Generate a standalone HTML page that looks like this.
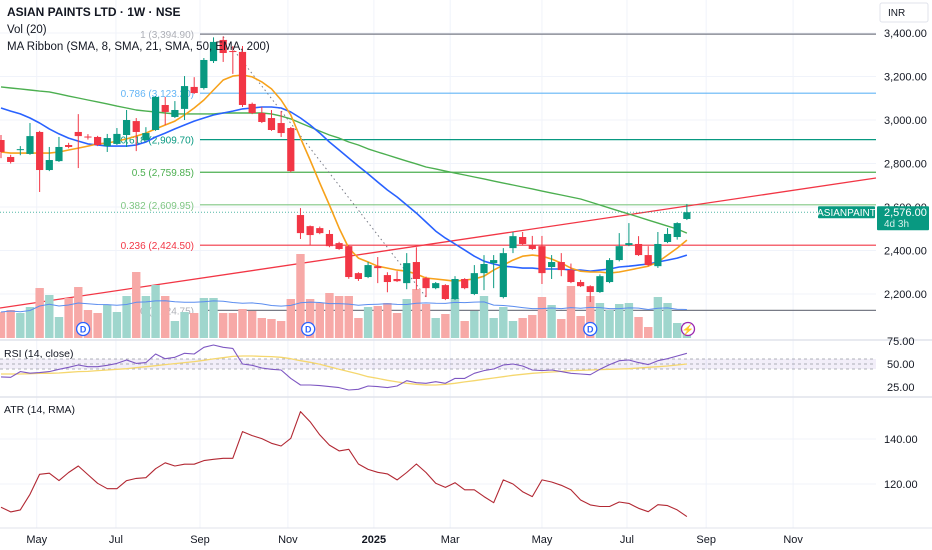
<!DOCTYPE html>
<html><head><meta charset="utf-8"><style>
html,body{margin:0;padding:0;background:#fff;}
svg{display:block;font-family:"Liberation Sans",sans-serif;}
</style></head><body>
<svg id="c" width="932" height="550" viewBox="0 0 932 550">
<g id="grid"></g>
<g id="fib"></g>
<g id="vol"></g>
<g id="mas"></g>
<g id="candles"></g>
<g id="ind"></g>
<g id="axes"></g>
</svg>
<script>
const opens=[2908,2830,2862,2844,2945,2770,2811,2885,2945,2924,2922,2880,2890,2931,2995,2908,2954,3069,3014,3051,3152,3147,3271,3368,3317,3313,3074,3032,3009,2986,2963,2563,2512,2503,2476,2434,2420,2296,2278,2328,2287,2269,2250,2347,2273,2227,2241,2177,2269,2200,2296,2342,2186,2411,2462,2425,2420,2324,2347,2310,2255,2236,2209,2255,2356,2425,2430,2379,2328,2439,2462,2545];
const highs=[2931,2840,2880,2986,2950,2876,2922,2895,3027,2935,2927,2936,2963,3046,3009,2967,3110,3106,3087,3202,3197,3285,3380,3384,3340,3340,3080,3060,3046,3041,2968,2595,2515,2510,2494,2440,2425,2300,2347,2370,2300,2305,2388,2415,2280,2255,2245,2282,2273,2333,2379,2379,2411,2485,2485,2467,2467,2379,2388,2340,2265,2240,2290,2365,2480,2526,2466,2420,2485,2503,2530,2614];
const lows=[2825,2800,2838,2840,2669,2765,2807,2870,2779,2910,2880,2853,2885,2876,2857,2900,2950,2977,3009,3000,3120,3140,3262,3267,3212,3060,3027,2986,2950,2922,2760,2453,2425,2475,2415,2403,2270,2260,2273,2250,2208,2255,2222,2220,2186,2222,2172,2172,2222,2195,2218,2227,2180,2388,2425,2403,2246,2269,2282,2250,2232,2163,2205,2250,2350,2420,2375,2328,2320,2434,2450,2540];
const closes=[2853,2807,2866,2926,2770,2816,2876,2876,2926,2920,2885,2917,2936,3000,2945,2940,3106,3037,3046,3156,3124,3276,3359,3308,3313,3069,3032,2991,2954,2940,2765,2480,2471,2480,2420,2407,2278,2269,2333,2319,2255,2259,2342,2269,2227,2250,2177,2269,2227,2296,2338,2356,2388,2466,2430,2407,2296,2347,2310,2255,2236,2209,2282,2356,2420,2434,2379,2333,2430,2476,2526,2576];
const volumes=[26,28,25,31,50,43,21,40,51,28,25,33,26,42,66,42,53,42,17,26,25,40,40,25,25,29,27,20,19,17,39,84,39,35,45,42,42,20,31,32,35,25,39,49,34,20,24,40,17,27,42,20,31,17,20,23,41,33,19,52,22,42,35,28,34,35,21,11,41,35,15,15];
const sma8=[2853,2848,2848,2848,2848,2848,2853,2862,2871,2880,2890,2894,2903,2913,2926,2940,2959,2977,2995,3023,3055,3092,3138,3184,3202,3207,3198,3175,3143,3092,3023,2917,2816,2710,2609,2503,2411,2365,2347,2328,2319,2310,2305,2292,2273,2269,2264,2259,2264,2269,2282,2310,2333,2356,2374,2379,2374,2361,2342,2319,2305,2301,2301,2296,2301,2310,2319,2328,2347,2379,2411,2448];
const sma21=[3055,3041,3028,3009,2986,2959,2936,2917,2903,2890,2885,2880,2880,2880,2885,2899,2922,2940,2959,2977,2995,3009,3023,3032,3041,3051,3055,3060,3060,3055,3037,3009,2977,2940,2899,2862,2825,2788,2752,2715,2678,2646,2609,2572,2531,2489,2457,2430,2402,2374,2351,2338,2328,2324,2319,2319,2315,2315,2315,2310,2310,2305,2310,2315,2324,2328,2333,2338,2347,2356,2365,2379];
const sma50=[3152,3147,3143,3138,3133,3129,3120,3110,3101,3092,3083,3074,3064,3055,3046,3041,3037,3032,3028,3028,3028,3028,3028,3032,3032,3032,3032,3032,3028,3018,3005,2986,2968,2949,2931,2917,2899,2885,2867,2853,2839,2825,2811,2798,2784,2775,2765,2756,2747,2738,2729,2719,2710,2701,2692,2683,2673,2664,2655,2646,2637,2623,2609,2595,2581,2568,2554,2540,2526,2512,2499,2480];
const rsi=[36,35.5,41.7,40,40.6,41.7,44.2,46.4,48.9,47.1,47.1,48.6,50.7,54.4,50.7,51.5,60.9,55.8,57.3,61.6,60.9,68.1,70.7,68.1,67,50,48.6,45.7,44.2,43.5,34.4,27.2,27.2,26.5,25.4,24.3,21.7,22.5,26.1,25.4,24.3,26.1,31.9,29.7,29,30.8,29,34.4,34.4,39.9,42.8,44.6,48.9,50,47.8,43.5,42.8,43.5,41.7,39.9,39.1,38.4,44.2,49.3,53.6,54.4,51.5,49.3,53.6,55.8,58.7,61.6];
const rsiMa=[39.1,39.1,39.1,39.5,39.9,39.9,40.2,41,41.7,42,42.8,43.5,44.2,44.9,46,47.1,48.2,49.3,50.4,51.5,52.6,54,55.5,56.9,58.3,58.7,58.7,58.3,58,57.3,55.8,53.6,51.8,49.7,47.1,44.2,41.7,39.1,36.2,34.4,32.3,30.5,29,27.9,27.2,27.2,27.9,29,30.5,31.9,33.4,34.8,36.2,37.7,38.8,39.9,40.6,41.3,42,42.8,43.1,43.5,43.9,44.2,44.6,44.9,45.7,46.4,47.1,47.8,48.9,50];
const atr=[109.7,107.6,108.5,115.4,124.3,124.8,121.5,125.1,128,124.2,120.3,117.9,117.9,121.5,122.5,122.8,126.8,129.4,128,128.8,128.8,130.4,131,131.4,131.4,143.3,141.5,140.2,138.1,136.9,140.3,152.2,147.7,141.8,137.3,134.7,135.4,128.9,126.5,125.2,124.5,121.8,125.1,128.9,125.1,120.3,118.5,120.6,117.4,117.4,114.4,111.7,121.8,120,116.6,114.4,121.8,120.9,119.4,117.4,112.9,110.7,110,110,112,111.4,109.2,107.7,110.8,110.4,108.5,105.5];
const timeTickLabels=["May","Jul","Sep","Nov","2025","Mar","May","Jul","Sep","Nov"];
const timeTickIdx=[3.7,11.9,20.6,29.7,38.6,46.5,56,64.8,73,82];
const priceTicks=[3400,3200,3000,2800,2600,2400,2200];
const fibRatios=["1","0.786","0.618","0.5","0.382","0.236","0"];
const fibPrices=[3394.90,3123.20,2909.70,2759.85,2609.95,2424.50,2124.75];
const rsiTicks=[75,50,25];
const atrTicks=[140,120];
const dividendIdx=[8.5,31.8,61];
const lastPrice=2576;

const NS="http://www.w3.org/2000/svg";
const X=i=>1+9.66*i;
const yP=p=>33+(3400-p)*0.2175;
const yV=v=>338-v;
const yR=r=>364-(r-50)*0.92;
const yA=a=>439+(140-a)*2.25;
const fmt=v=>v.toLocaleString("en-US",{minimumFractionDigits:2,maximumFractionDigits:2});
function mk(parent,tag,attrs,text){const e=document.createElementNS(NS,tag);for(const k in attrs)e.setAttribute(k,attrs[k]);if(text!==undefined)e.textContent=text;document.getElementById(parent).appendChild(e);return e;}
function poly(parent,arr,yf,color,w,name){const pts=arr.map((v,i)=>X(i).toFixed(1)+","+yf(v).toFixed(1)).join(" ");const e=mk(parent,"polyline",{points:pts,fill:"none",stroke:color,"stroke-width":w,"stroke-linejoin":"round"});


return e;}

// grid
timeTickIdx.forEach((t,k)=>{const e=mk("grid","line",{x1:X(t),x2:X(t),y1:0,y2:528,stroke:"#f0f3fa","stroke-width":1});

});
priceTicks.forEach(p=>{const e=mk("grid","line",{x1:0,x2:876,y1:yP(p),y2:yP(p),stroke:"#f0f3fa","stroke-width":1});

});
atrTicks.forEach(a=>{const e=mk("grid","line",{x1:0,x2:876,y1:yA(a),y2:yA(a),stroke:"#f0f3fa"});

});

// fib
const fibColors=["#787b86","#64b5f6","#089981","#4caf50","#81c784","#f23645","#787b86"];
fibPrices.forEach((p,k)=>{const y=yP(p);
const l=mk("fib","line",{x1:200,x2:876,y1:y,y2:y,stroke:fibColors[k],"stroke-width":1.2});


const t=mk("fib","text",{x:194,y:y+4,"text-anchor":"end","font-size":10,fill:fibColors[k],opacity:k==0||k==6?0.6:1},fibRatios[k]+" ("+fmt(p)+")");

});
// fib connector dotted diagonal
{const e=mk("fib","line",{x1:X(23),y1:yP(highs[23]),x2:X(44),y2:yP(lows[44]),stroke:"#787b86","stroke-width":1,"stroke-dasharray":"1.5,3"});

}
// trendline
{const e=mk("fib","line",{x1:0,y1:308,x2:876,y2:178,stroke:"#f23645","stroke-width":1.3});

}
// last price dotted
{const e=mk("fib","line",{x1:0,x2:876,y1:yP(lastPrice),y2:yP(lastPrice),stroke:"#089981","stroke-width":1,"stroke-dasharray":"1,2",opacity:0.7});

}

// volume
volumes.forEach((v,i)=>{const up=closes[i]>=opens[i];const e=mk("vol","rect",{x:X(i)-4.2,y:yV(v),width:8.4,height:v,fill:up?"#9fd6cd":"#f7a9a7"});

});
const volMa=volumes.map((v,i)=>{const s=volumes.slice(Math.max(0,i-19),i+1);return s.reduce((a,b)=>a+b,0)/s.length;});
poly("vol",volMa,yV,"#5b8def",1,"volume-ma-line");

// MAs
poly("mas",sma50,yP,"#4caf50",1.4,"sma-50-line");
poly("mas",sma21,yP,"#2962ff",1.6,"sma-21-line");
poly("mas",sma8,yP,"#f7a21b",1.6,"sma-8-line");

// candles
opens.forEach((o,i)=>{const c=closes[i];const up=c>=o;const col=up?"#089981":"#f23645";const x=X(i);
const w=mk("candles","line",{x1:x,x2:x,y1:yP(highs[i]),y2:yP(lows[i]),stroke:col,"stroke-width":1});


const top=yP(Math.max(o,c)),bot=yP(Math.min(o,c));
const b=mk("candles","rect",{x:x-3.6,y:top,width:7.2,height:Math.max(1,bot-top),fill:col});

});

// dividend markers
dividendIdx.forEach(d=>{const g=mk("candles","g",{});


const cx=X(d);const ci=document.createElementNS(NS,"circle");ci.setAttribute("cx",cx);ci.setAttribute("cy",329);ci.setAttribute("r",6.5);ci.setAttribute("fill","#fff");ci.setAttribute("stroke","#2962ff");ci.setAttribute("stroke-width",1.3);g.appendChild(ci);
const t=document.createElementNS(NS,"text");t.setAttribute("x",cx);t.setAttribute("y",332.5);t.setAttribute("text-anchor","middle");t.setAttribute("font-size",9);t.setAttribute("font-weight","bold");t.setAttribute("fill","#2962ff");t.textContent="D";g.appendChild(t);});
{const g=mk("candles","g",{});


const ci=document.createElementNS(NS,"circle");ci.setAttribute("cx",688);ci.setAttribute("cy",329);ci.setAttribute("r",6.5);ci.setAttribute("fill","#fff");ci.setAttribute("stroke","#9c27b0");ci.setAttribute("stroke-width",1.3);g.appendChild(ci);
const t=document.createElementNS(NS,"text");t.setAttribute("x",688);t.setAttribute("y",333);t.setAttribute("text-anchor","middle");t.setAttribute("font-size",10);t.setAttribute("fill","#9c27b0");t.textContent="⚡";g.appendChild(t);}

// panes separators
[340,397].forEach(y=>{const e=mk("ind","line",{x1:0,x2:932,y1:y,y2:y,stroke:"#e0e3eb","stroke-width":1.5});

});
// RSI band
{const e=mk("ind","rect",{x:0,y:yR(55.4),width:876,height:yR(44.6)-yR(55.4),fill:"#7e57c2",opacity:0.1});

}
[55.4,50,44.6].forEach(v=>{const e=mk("ind","line",{x1:0,x2:876,y1:yR(v),y2:yR(v),stroke:"#9598a1","stroke-width":0.8,"stroke-dasharray":"3,3"});

});
poly("ind",rsiMa,yR,"#f5d76e",1.3,"rsi-ma-line");
poly("ind",rsi,yR,"#7e57c2",1.1,"rsi-line");
poly("ind",atr,yA,"#b22833",1.1,"atr-line");

// legends
const L=[[7,16,"ASIAN PAINTS LTD · 1W · NSE",12,"bold","#131722","chart-title"],[7,33,"Vol (20)",11.5,"normal","#131722","volume-legend"],[7,50,"MA Ribbon (SMA, 8, SMA, 21, SMA, 50, EMA, 200)",11.5,"normal","#131722","ma-ribbon-legend"],[4,357,"RSI (14, close)",10.5,"normal","#131722","rsi-legend"],[4,413,"ATR (14, RMA)",10.5,"normal","#131722","atr-legend"]];
L.forEach(a=>{const e=mk("axes","text",{x:a[0],y:a[1],"font-size":a[3],"font-weight":a[4],fill:a[5]},a[2]);

});

// price axis
priceTicks.forEach(p=>{const e=mk("axes","text",{x:884,y:yP(p)+4,"font-size":11,fill:"#131722"},fmt(p));

});
rsiTicks.forEach(r=>{const e=mk("axes","text",{x:887,y:yR(r)+4,"font-size":11,fill:"#131722"},r.toFixed(2));

});
atrTicks.forEach(a=>{const e=mk("axes","text",{x:884,y:yA(a)+4,"font-size":11,fill:"#131722"},a.toFixed(2));

});
{const r=mk("axes","rect",{x:880,y:3,width:48,height:19,fill:"#fff",stroke:"#e0e3eb",rx:2});


const t=mk("axes","text",{x:888,y:16,"font-size":10,fill:"#131722"},"INR");

}
{const yl=yP(lastPrice);
const r=mk("axes","rect",{x:877,y:yl-6,width:52,height:24,fill:"#089981",rx:1});


const t=mk("axes","text",{x:884,y:yl+4,"font-size":11,fill:"#fff"},fmt(lastPrice));


const t2=mk("axes","text",{x:884,y:yl+15,"font-size":10,fill:"#d6f0ea"},"4d 3h");


const r2=mk("axes","rect",{x:818,y:yl-6,width:57,height:12,fill:"#089981",rx:1});


const t3=mk("axes","text",{x:846.5,y:yl+4,"font-size":10,"text-anchor":"middle",fill:"#fff"},"ASIANPAINT");

}
// time axis
{const e=mk("axes","line",{x1:0,x2:932,y1:528,y2:528,stroke:"#e0e3eb"});

}
timeTickIdx.forEach((t,k)=>{const bold=timeTickLabels[k]==="2025";const e=mk("axes","text",{x:X(t),y:543,"font-size":11,"text-anchor":"middle","font-weight":bold?"bold":"normal",fill:"#131722"},timeTickLabels[k]);

});
</script>
</body></html>
